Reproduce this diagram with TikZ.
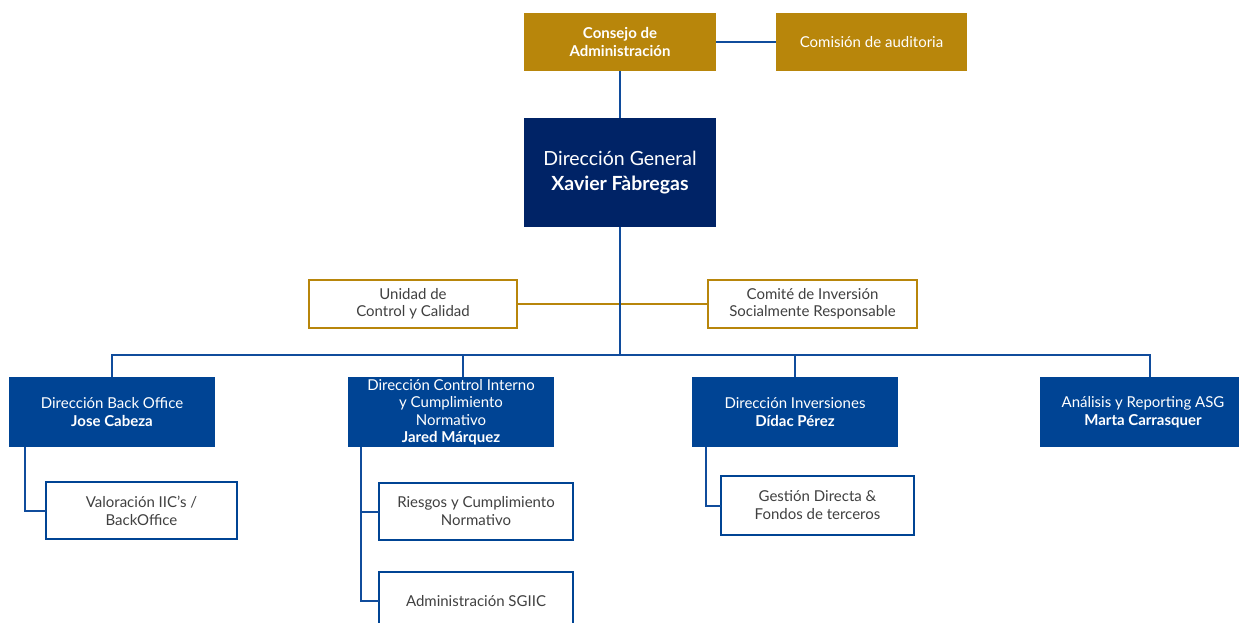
\documentclass[tikz,border=0pt]{standalone}
\usepackage{fontspec}
\setmainfont{Lato}
\usetikzlibrary{positioning}
\definecolor{oro}{RGB}{184,134,11}
\definecolor{marino}{RGB}{0,35,102}
\definecolor{azul}{RGB}{0,68,148}
\definecolor{linea}{RGB}{16,76,156}
\definecolor{gris}{RGB}{64,64,64}
\tikzset{box/.style={rectangle,inner sep=0pt,outer sep=0pt,align=center},
         gold node/.style={box,fill=oro,text=white,minimum width=192pt,minimum height=58pt,font=\fontsize{15}{18}\selectfont},
         gold frame/.style={box,draw=oro,line width=2pt,fill=white,text=gris,minimum width=208pt,minimum height=48pt,font=\fontsize{15}{17}\selectfont},
         head node/.style={box,fill=marino,text=white,minimum width=192pt,minimum height=109pt,font=\fontsize{19.5}{25}\selectfont},
         dept node/.style={box,fill=azul,text=white,minimum width=206pt,minimum height=70pt,font=\fontsize{15}{17.5}\selectfont},
         unit node/.style={box,draw=azul,line width=2pt,fill=white,text=gris,minimum width=193pt,minimum height=57pt,font=\fontsize{15}{18}\selectfont},
         conn/.style={draw=linea,line width=2pt},
         goldline/.style={draw=oro,line width=2pt}
            }

\begin{document}
\begin{tikzpicture}[x=1pt,y=-1pt]

    \useasboundingbox (0,0) rectangle (1239,622);

    \node[gold node] (consejo) at (620,42) {\bfseries Consejo de\\\bfseries Administración};
    \node[gold node,minimum width=191pt] (comision) [right = 60pt of consejo] {Comisión de auditoria};
    \node[head node] (dg) [below = 47pt of consejo] {Dirección General\\\textbf{Xavier Fàbregas}};

    \node[gold frame] (unidad) [below left = 53pt and 7pt of dg] {Unidad de\\Control y Calidad};
    \node[gold frame,minimum width=209pt] (comite) [below right = 53pt and -8pt of dg] {Comité de Inversión\\Socialmente Responsable};

    \node[dept node] (control) [below left = 150pt and -30pt of dg] {Dirección Control Interno\\y Cumplimiento\\Normativo\\\textbf{Jared Márquez}};
    \node[dept node] (backoffice) [left = 133pt of control] {Dirección Back Office\\\textbf{Jose Cabeza}};
    \node[dept node] (inversiones) [right = 138pt of control] {Dirección Inversiones\\\textbf{Dídac Pérez}};
    \node[dept node] (asg) [right = 142pt of inversiones] {Análisis y Reporting ASG\\\textbf{Marta Carrasquer}};

    \node[unit node,minimum width=191pt] (valoracion) [below right = 35pt and 37pt of backoffice.south west] {Valoración IIC's /\\BackOffice};
    \node[unit node,minimum width=194pt] (riesgos) [below right = 36pt and 31pt of control.south west] {Riesgos y Cumplimiento\\Normativo};
    \node[unit node,minimum width=194pt,minimum height=58pt] (admin) [below = 32pt of riesgos] {Administración SGIIC};
    \node[unit node,minimum height=59pt] (gestion) [below right = 29pt and 29pt of inversiones.south west] {Gestión Directa \&\\Fondos de terceros};

    \coordinate (bus) at ([yshift=22pt]control.north -| dg.south);
    \coordinate (cdrop) at ([xshift=12pt]control.north);
    \coordinate (adrop) at ([xshift=7pt]asg.north);
    \coordinate (bostem) at ([xshift=16pt]backoffice.south west);
    \coordinate (cistem) at ([xshift=13pt]control.south west);
    \coordinate (instem) at ([xshift=14pt]inversiones.south west);

    \path[goldline] (unidad) -- (comite);

    \path[conn]
    (consejo) -- (comision)
    (consejo) -- (dg)
    (dg) -- (bus)
    (backoffice.north) |- (bus) -| (adrop)
    (cdrop) -- (cdrop |- bus)
    (inversiones.north) -- (inversiones.north |- bus)
    (bostem) |- (valoracion.west)
    (cistem) |- (riesgos.west)
    (cistem) |- (admin.west)
    (instem) |- (gestion.west);

\end{tikzpicture}
\end{document}
